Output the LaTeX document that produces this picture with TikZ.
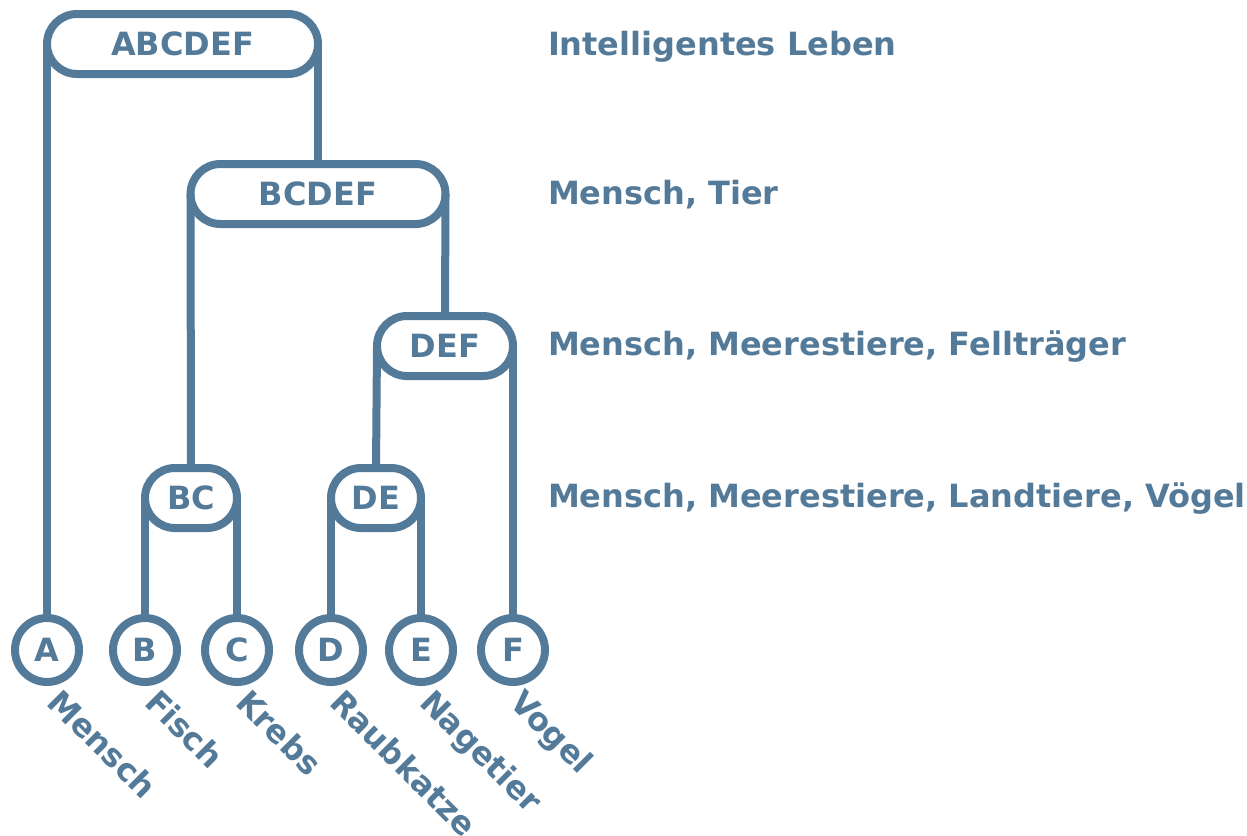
\documentclass[tikz,border=0pt]{standalone}
\usepackage{fontspec}
\setmainfont{DejaVu Sans}
\definecolor{treeblue}{RGB}{84,122,153}
\begin{document}
\begin{tikzpicture}[x=0.5pt,y=-0.5pt]
\tikzstyle{every node}+=[inner sep=0pt,outer sep=0pt,text=treeblue,font=\fontsize{16}{19}\selectfont\bfseries]
\tikzstyle{cluster}=[draw=treeblue,line width=4pt,rounded corners=15pt,minimum height=30pt,fill=white]
\tikzstyle{leaf}=[draw=treeblue,line width=4pt,circle,minimum size=32pt,fill=white]
\tikzstyle{edge}=[draw=treeblue,line width=4pt]
\tikzstyle{leafname}=[rotate=-45,anchor=base west]
\tikzstyle{levellabel}=[anchor=base west]
\useasboundingbox (0,0) rectangle (1247,835);
\node [cluster,minimum width=135.5pt] (abcdef) at (182.5,44) {ABCDEF};
\node [cluster,minimum width=127.5pt] (bcdef) at (318,194) {BCDEF};
\node [cluster,minimum width=68pt] (def) at (445,346) {DEF};
\node [cluster,minimum width=46pt] (bc) at (191,498) {BC};
\node [cluster,minimum width=45pt] (de) at (376,498) {DE};
\node [leaf] (a) at (47,650) {A};
\node [leaf] (b) at (145,650) {B};
\node [leaf] (c) at (237,650) {C};
\node [leaf] (d) at (331,650) {D};
\node [leaf] (e) at (421,650) {E};
\node [leaf] (f) at (513,650) {F};
\draw [edge] (abcdef.west) -- (a.north);
\draw [edge] (abcdef.east) -- (bcdef.north);
\draw [edge] (bcdef.west) -- (bc.north);
\draw [edge] (bcdef.east) -- (def.north);
\draw [edge] (def.west) -- (de.north);
\draw [edge] (def.east) -- (f.north);
\draw [edge] (bc.west) -- (b.north);
\draw [edge] (bc.east) -- (c.north);
\draw [edge] (de.west) -- (d.north);
\draw [edge] (de.east) -- (e.north);
\node [leafname] (mensch) at (46,704) {Mensch};
\node [leafname] (fisch) at (143,704) {Fisch};
\node [leafname] (krebs) at (234,704) {Krebs};
\node [leafname] (raubkatze) at (328,704) {Raubkatze};
\node [leafname] (nagetier) at (418,704) {Nagetier};
\node [leafname] (vogel) at (508,704) {Vogel};
\node [levellabel] (l1) at (548,55) {Intelligentes Leben};
\node [levellabel] (l2) at (548,204) {Mensch, Tier};
\node [levellabel] (l3) at (548,355) {Mensch, Meerestiere, Fellträger};
\node [levellabel] (l4) at (548,507) {Mensch, Meerestiere, Landtiere, Vögel};
\end{tikzpicture}
\end{document}
